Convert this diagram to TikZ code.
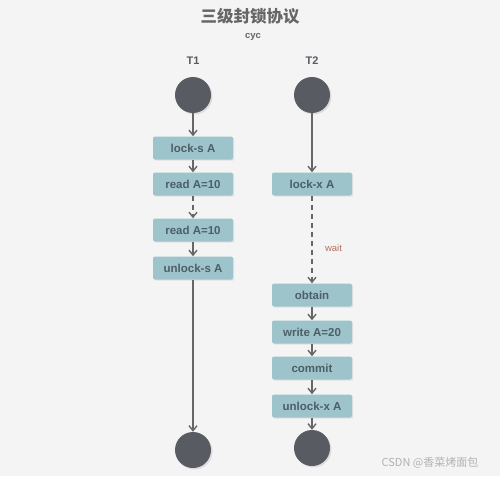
\documentclass[tikz,border=0pt]{standalone}
\usepackage{fontspec}
\setmainfont{Liberation Sans}
\newfontfamily\cjk{Noto Sans CJK SC}
\usepackage{tikz}
\usetikzlibrary{arrows.meta,positioning,shadows}
\definecolor{bgray}{HTML}{F4F4F4}
\definecolor{boxteal}{HTML}{9CC4CA}
\definecolor{boxtext}{HTML}{4E5E66}
\definecolor{dotgray}{HTML}{595B62}
\definecolor{linegray}{HTML}{666666}
\definecolor{waitred}{HTML}{B3705C}

\begin{document}
\begin{tikzpicture}[x=1pt, y=-1pt,
    opbox/.style={fill=boxteal, rounded corners=2pt, minimum width=80pt, minimum height=23pt,
        text=boxtext, font=\bfseries\fontsize{11.5}{13}\selectfont,
        drop shadow={opacity=0.15, shadow xshift=1.2pt, shadow yshift=-1.2pt}},
    dot/.style={circle, fill=dotgray, minimum size=36pt, inner sep=0pt,
        drop shadow={opacity=0.2, shadow xshift=1.5pt, shadow yshift=-1.5pt}},
    flow/.style={-{Straight Barb[length=5pt, width=8pt, line width=1.4pt]}, linegray, line width=1.4pt},
    wflow/.style={flow, dashed, dash pattern=on 5pt off 4pt}]
    % Background
    \fill[bgray] (0, 0) rectangle (500, 476);
    \useasboundingbox (0, 0) rectangle (500, 476);

    % Title
    \node[text=linegray, font=\cjk\bfseries\fontsize{16.5}{19}\selectfont] (title) at (250, 16) {三级封锁协议};
    \node[text=linegray, font=\bfseries\fontsize{9.5}{11}\selectfont] (author) at (253, 37) {cyc};
    \node[text=dotgray, font=\bfseries\fontsize{11}{13}\selectfont] (t1) at (193, 61) {T1};
    \node[text=dotgray, font=\bfseries\fontsize{11}{13}\selectfont] (t2) at (312, 61) {T2};

    % Transaction T1
    \node[dot] (s1) at (193, 95) {};
    \node[opbox] (lks) at (193, 148) {lock-s A};
    \node[opbox] (rd1) at (193, 184) {read A=10};
    \node[opbox] (rd2) at (193, 230) {read A=10};
    \node[opbox] (uls) at (193, 268) {unlock-s A};
    \node[dot] (e1) at (193, 450) {};
    \draw[flow] (s1) -- (lks);
    \draw[flow] (lks) -- (rd1);
    \draw[wflow] (rd1) -- (rd2);
    \draw[flow] (rd2) -- (uls);
    \draw[flow] (uls) -- (e1);

    % Transaction T2
    \node[dot] (s2) at (312, 95) {};
    \node[opbox] (lkx) at (312, 184) {lock-x A};
    \node[opbox] (obt) at (312, 295) {obtain};
    \node[opbox] (wrt) at (312, 332) {write A=20};
    \node[opbox] (cmt) at (312, 368) {commit};
    \node[opbox] (ulx) at (312, 406) {unlock-x A};
    \node[dot] (e2) at (312, 448) {};
    \draw[flow] (s2) -- (lkx);
    \draw[wflow] (lkx) -- node[pos=0.6, right=9pt, text=waitred, font=\fontsize{9.5}{11}\selectfont] {wait} (obt);
    \draw[flow] (obt) -- (wrt);
    \draw[flow] (wrt) -- (cmt);
    \draw[flow] (cmt) -- (ulx);
    \draw[flow] (ulx) -- (e2);

    % Watermark
    \node[text=gray!60, font=\cjk\fontsize{11}{13}\selectfont] (mark) at (430, 463) {CSDN @香菜烤面包};
\end{tikzpicture}
\end{document}
